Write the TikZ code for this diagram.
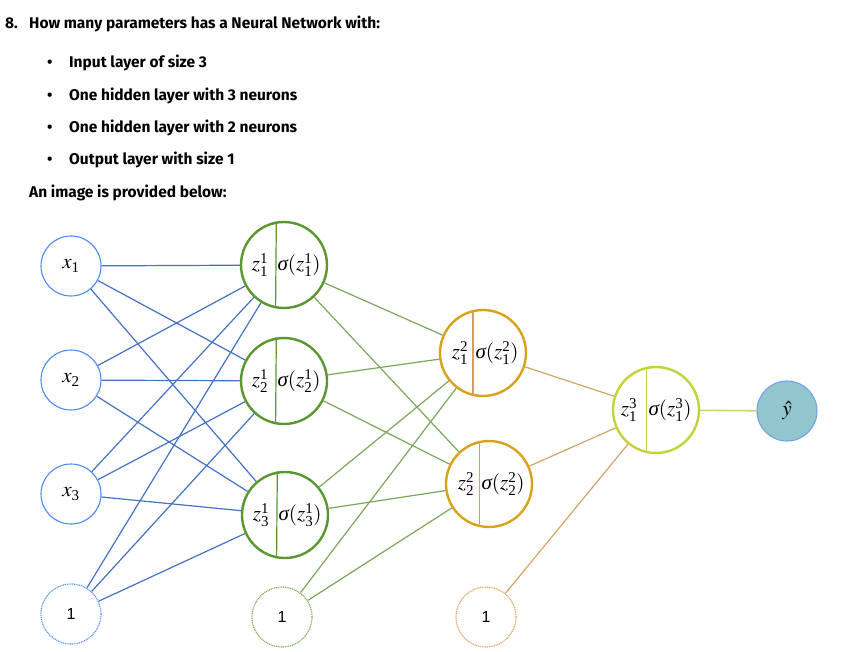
\documentclass[tikz,border=0pt]{standalone}
\usepackage{mathptmx}
\usepackage{fontspec}
\setmainfont{Liberation Serif}
\newfontfamily\headfont{Fira Sans}
\newfontfamily\onefont{Liberation Sans}
\newcommand{\mysig}{\mbox{\normalfont\itshape σ}}
\newcommand{\scr}[1]{\mbox{\fontsize{15}{15}\selectfont #1}}
\newcommand{\zz}[2]{z^{\scr{#2}}_{\scr{#1}}}
\usetikzlibrary{calc}
\definecolor{inblue}{HTML}{4A8AF4}
\definecolor{edgeblue}{HTML}{4472C4}
\definecolor{hgreen}{HTML}{5B9631}
\definecolor{egreen}{HTML}{7DA75A}
\definecolor{horange}{HTML}{D9A21B}
\definecolor{hdiv}{HTML}{D4A05A}
\definecolor{eorange}{HTML}{D4A467}
\definecolor{olime}{HTML}{C3D43B}
\definecolor{elime}{HTML}{C8D86A}
\definecolor{yfill}{HTML}{93C6CC}
\definecolor{yborder}{HTML}{6FA5E8}
\definecolor{bblue}{HTML}{5E95EE}
\definecolor{bgreen}{HTML}{7FAE58}
\definecolor{borange}{HTML}{E3A562}
\begin{document}
\begin{tikzpicture}[x=1pt,y=-1pt,
  txt/.style={font=\headfont\bfseries\fontsize{15.5}{18}\selectfont, inner sep=0pt},
  inp/.style={circle, draw=inblue, line width=1.1pt, minimum size=60pt, inner sep=0pt, fill=white, font=\fontsize{21}{24}\selectfont},
  biasnode/.style={circle, line width=1.2pt, dash pattern=on 1pt off 0.8pt, minimum size=60pt, inner sep=0pt, fill=white, font=\onefont\fontsize{16}{18}\selectfont},
  hid/.style={circle, line width=2.4pt, minimum size=86pt, inner sep=0pt, fill=white},
  lab/.style={inner sep=0pt, font=\fontsize{21}{24}\selectfont},
  div/.style={line width=1.2pt},
  eb/.style={draw=edgeblue, line width=1.2pt},
  eg/.style={draw=egreen, line width=1.2pt},
  eo/.style={draw=eorange, line width=1.2pt},
  el/.style={draw=elime, line width=1.6pt}]
\useasboundingbox (0,0) rectangle (843,652);
\fill[white] (0,0) rectangle (843,652);
% text
\node[txt, anchor=base west] (num) at (5,29) {8.};
\node[txt, anchor=base west] (title) at (29,29) {How many parameters has a Neural Network with:};
\node[txt, anchor=base west] (bu1) at (47,68) {\textbullet};
\node[txt, anchor=base west] (t1) at (69,68) {Input layer of size 3};
\node[txt, anchor=base west] (bu2) at (47,101) {\textbullet};
\node[txt, anchor=base west] (t2) at (69,101) {One hidden layer with 3 neurons};
\node[txt, anchor=base west] (bu3) at (47,133) {\textbullet};
\node[txt, anchor=base west] (t3) at (69,133) {One hidden layer with 2 neurons};
\node[txt, anchor=base west] (bu4) at (47,165) {\textbullet};
\node[txt, anchor=base west] (t4) at (69,165) {Output layer with size 1};
\node[txt, anchor=base west] (t5) at (29,198) {An image is provided below:};
% input layer
\node[inp] (x1) at (71,266) {$x_{\scr{1}}$};
\node[inp] (x2) at (71,380) {$x_{\scr{2}}$};
\node[inp] (x3) at (71,494) {$x_{\scr{3}}$};
\node[biasnode, draw=bblue] (b1) at (71,614) {1};
% hidden layer 1
\node[hid, draw=hgreen] (h1) at (284,265) {};
\node[hid, draw=hgreen] (h2) at (284,381) {};
\node[hid, draw=hgreen] (h3) at (285,515) {};
\node[biasnode, draw=bgreen] (b2) at (282,617) {1};
% hidden layer 2
\node[hid, draw=horange] (o1) at (483,353) {};
\node[hid, draw=horange] (o2) at (489,484) {};
\node[biasnode, draw=borange] (b3) at (486,617) {1};
% output
\node[hid, draw=olime] (out) at (656,410) {};
\node[circle, draw=yborder, fill=yfill, line width=1.1pt, minimum size=60pt, inner sep=0pt, font=\fontsize{21}{24}\selectfont] (yhat) at (787,411) {$\hat{y}$};
% dividers
\draw[div, hgreen] (h1.100.5) -- (h1.259.5);
\draw[div, hgreen] (h2.100.5) -- (h2.259.5);
\draw[div, hgreen] (h3.100.5) -- (h3.259.5);
\draw[div, hdiv] (o1.103) -- (o1.257);
\draw[div, hdiv] (o2.102) -- (o2.258);
\draw[div, olime] (out.102) -- (out.258);
% labels
\node[lab] (h1z) at ($(h1)+(-24,0)$) {$\zz{1}{1}$};
\node[lab] (h1s) at ($(h1)+(15,0)$) {$\mysig(\zz{1}{1})$};
\node[lab] (h2z) at ($(h2)+(-24,0)$) {$\zz{2}{1}$};
\node[lab] (h2s) at ($(h2)+(15,0)$) {$\mysig(\zz{2}{1})$};
\node[lab] (h3z) at ($(h3)+(-24,0)$) {$\zz{3}{1}$};
\node[lab] (h3s) at ($(h3)+(15,0)$) {$\mysig(\zz{3}{1})$};
\node[lab] (o1z) at ($(o1)+(-23,0)$) {$\zz{1}{2}$};
\node[lab] (o1s) at ($(o1)+(14,0)$) {$\mysig(\zz{1}{2})$};
\node[lab] (o2z) at ($(o2)+(-23,0)$) {$\zz{2}{2}$};
\node[lab] (o2s) at ($(o2)+(14,0)$) {$\mysig(\zz{2}{2})$};
\node[lab] (outz) at ($(out)+(-27,0)$) {$\zz{1}{3}$};
\node[lab] (outs) at ($(out)+(14,0)$) {$\mysig(\zz{1}{3})$};
% edges
\foreach \a in {x1,x2,x3,b1}{\foreach \b in {h1,h2,h3}{\draw[eb] (\a) -- (\b);}}
\foreach \a in {h1,h2,h3,b2}{\foreach \b in {o1,o2}{\draw[eg] (\a) -- (\b);}}
\foreach \a in {o1,o2,b3}{\draw[eo] (\a) -- (out);}
\draw[el] (out) -- (yhat);
\end{tikzpicture}
\end{document}
